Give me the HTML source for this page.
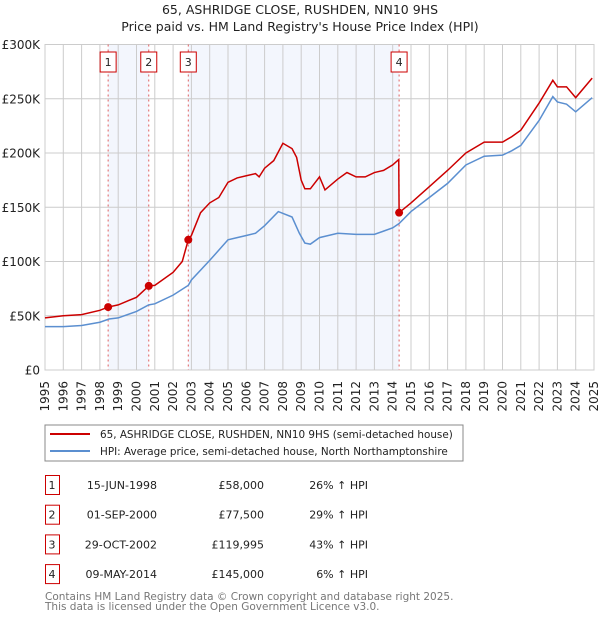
<!DOCTYPE html>
<html><head><meta charset="utf-8"><style>
body{margin:0;background:#fff;}
svg text{font-family:"DejaVu Sans","Liberation Sans",sans-serif;}
</style></head><body>
<svg id="chart" width="600" height="620" xmlns="http://www.w3.org/2000/svg">
<text x="300" y="14" text-anchor="middle" font-size="12.5" fill="#222">65, ASHRIDGE CLOSE, RUSHDEN, NN10 9HS</text>
<text x="300" y="31" text-anchor="middle" font-size="12.5" fill="#222">Price paid vs. HM Land Registry's House Price Index (HPI)</text>
<g id="plot"></g>
<g>
<rect x="45" y="425" width="418" height="36" fill="#fff" stroke="#888"/>
<line x1="50" y1="434" x2="90" y2="434" stroke="#cc0000" stroke-width="2"/>
<text x="100" y="438" font-size="10.4" fill="#222">65, ASHRIDGE CLOSE, RUSHDEN, NN10 9HS (semi-detached house)</text>
<line x1="50" y1="451" x2="90" y2="451" stroke="#5b8fd0" stroke-width="2"/>
<text x="100" y="455" font-size="10.4" fill="#222">HPI: Average price, semi-detached house, North Northamptonshire</text>
</g>
<g id="table"></g>
<text x="45" y="600" font-size="10.5" fill="#777">Contains HM Land Registry data © Crown copyright and database right 2025.</text>
<text x="45" y="610" font-size="10.5" fill="#777">This data is licensed under the Open Government Licence v3.0.</text>
</svg>
<script>
const yTicks=[0,50,100,150,200,250,300];
const yTickLabels=["£0","£50K","£100K","£150K","£200K","£250K","£300K"];
const years=[1995,1996,1997,1998,1999,2000,2001,2002,2003,2004,2005,2006,2007,2008,2009,2010,2011,2012,2013,2014,2015,2016,2017,2018,2019,2020,2021,2022,2023,2024,2025];
const hpiT=[1995,1996,1997,1998,1998.5,1999,2000,2000.67,2001,2002,2002.83,2003,2004,2005,2005.5,2006,2006.5,2007,2007.75,2008.5,2008.9,2009.2,2009.5,2010,2011,2012,2013,2013.5,2014,2014.35,2015,2016,2017,2018,2019,2020,2020.5,2021,2022,2022.75,2023,2023.5,2024,2024.9];
const hpiV=[40,40,41,44,47,48,54,60,61,69,78,83,101,120,122,124,126,133,146,141,126,117,116,122,126,125,125,128,131,135,146,159,172,189,197,198,202,207,230,252,247,245,238,251];
const priceT=[1995,1996,1997,1998,1998.45,1999,2000,2000.67,2001,2002,2002.5,2002.83,2003,2003.5,2004,2004.5,2005,2005.5,2006,2006.5,2006.7,2007,2007.5,2008,2008.5,2008.75,2009,2009.2,2009.5,2010,2010.3,2011,2011.5,2012,2012.5,2013,2013.5,2014,2014.33,2014.35,2015,2016,2017,2018,2019,2020,2020.5,2021,2022,2022.75,2023,2023.5,2024,2024.9];
const priceV=[48,50,51,55,58,60,67,77.5,78,90,100,120,124,145,154,159,173,177,179,181,178,186,193,209,204,196,175,167,167,178,166,176,182,178,178,182,184,189,194,145,154,169,184,200,210,210,215,221,246,267,261,261,251,269];
const saleT=[1998.45,2000.67,2002.83,2014.35];
const saleV=[58,77.5,119.995,145];
const saleLabels=["1","2","3","4"];
const saleDates=["15-JUN-1998","01-SEP-2000","29-OCT-2002","09-MAY-2014"];
const salePrices=["£58,000","£77,500","£119,995","£145,000"];
const saleHpi=["26% ↑ HPI","29% ↑ HPI","43% ↑ HPI","6% ↑ HPI"];

const NS="http://www.w3.org/2000/svg";
const L=45,R=594,T=44.5,B=370;
const x=t=>L+(t-1995)/30*(R-L);
const y=v=>B-v/300*(B-T);
function mk(tag,attrs,parent){const e=document.createElementNS(NS,tag);for(const k in attrs)e.setAttribute(k,attrs[k]);parent.appendChild(e);return e;}
const plot=document.getElementById('plot');
for(const [a,b] of [[0,1],[2,3]]){
  const r=mk('rect',{x:x(saleT[a]),y:T,width:x(saleT[b])-x(saleT[a]),height:B-T,fill:'#f3f6fd'},plot);
  
  
}
years.forEach(yr=>{
  const g=mk('line',{x1:x(yr),x2:x(yr),y1:T,y2:B,stroke:'#cccccc','stroke-width':1},plot);
  
  
  const t=mk('text',{x:0,y:0,'font-size':12,fill:'#222','text-anchor':'end',transform:`translate(${x(yr)+4},381) rotate(-90)`},plot);
  t.textContent=yr;
  
  
});
yTicks.forEach((v,i)=>{
  const g=mk('line',{x1:L,x2:R,y1:y(v),y2:y(v),stroke:'#cccccc','stroke-width':1},plot);
  
  
  const t=mk('text',{x:40,y:y(v)+4.5,'font-size':12,fill:'#222','text-anchor':'end'},plot);
  t.textContent=yTickLabels[i];
  
  
});
mk('rect',{x:L,y:T,width:R-L,height:B-T,fill:'none',stroke:'#cccccc'},plot);
saleT.forEach((t,i)=>{
  const d=mk('line',{x1:x(t),x2:x(t),y1:T,y2:B,stroke:'#e06060','stroke-width':1,'stroke-dasharray':'2,3'},plot);
  
  
  const bx=mk('rect',{x:x(t)-8,y:52,width:16,height:20,fill:'#fff',stroke:'#cc0000'},plot);
  
  
  const tx=mk('text',{x:x(t),y:66,'font-size':11,fill:'#222','text-anchor':'middle'},plot);
  tx.textContent=saleLabels[i];
  
  
});
const hp=mk('polyline',{points:hpiT.map((t,i)=>x(t)+','+y(hpiV[i])).join(' '),fill:'none',stroke:'#5b8fd0','stroke-width':1.5},plot);


const pp=mk('polyline',{points:priceT.map((t,i)=>x(t)+','+y(priceV[i])).join(' '),fill:'none',stroke:'#cc0000','stroke-width':1.5},plot);


saleT.forEach((t,i)=>{
  const c=mk('circle',{cx:x(t),cy:y(saleV[i]),r:4,fill:'#cc0000'},plot);
  
  
});
const tb=document.getElementById('table');
saleLabels.forEach((s,i)=>{
  const cy=485+i*29.7;
  const bx=mk('rect',{x:45.5,y:cy-9.5,width:14,height:19,fill:'#fff',stroke:'#cc0000'},tb);
  
  
  const cols=[[52,s,'middle','row-number'],[157,saleDates[i],'end','row-date'],[264,salePrices[i],'end','row-price'],[368,saleHpi[i],'end','row-hpi-change']];
  cols.forEach(c=>{
    const t=mk('text',{x:c[0],y:cy+4,'font-size':11,fill:'#222','text-anchor':c[2]},tb);
    t.textContent=c[1];
    
    
  });
});
</script>
</body></html>
